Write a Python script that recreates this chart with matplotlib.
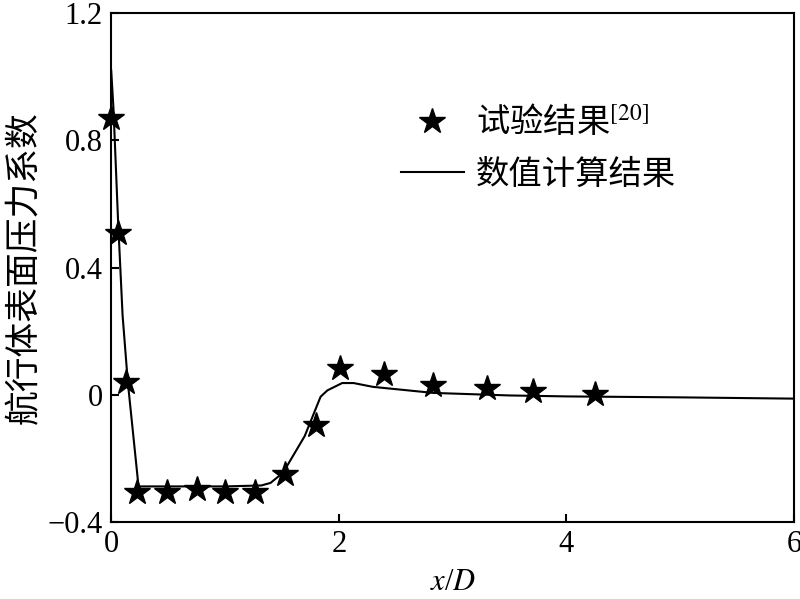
import matplotlib
matplotlib.use("Agg")
import matplotlib.pyplot as plt
from matplotlib.lines import Line2D

# 试验结果 (stars)
exp_x = [0.0, 0.06, 0.13, 0.23, 0.49, 0.75, 1.00, 1.26, 1.53, 1.80, 2.01, 2.40, 2.83, 3.30, 3.71, 4.25]
exp_cp = [0.87, 0.51, 0.04, -0.305, -0.305, -0.296, -0.305, -0.305, -0.25, -0.094, 0.085, 0.065, 0.03, 0.022, 0.013, 0.003]

# 数值计算结果 (line)
num_x = [0.0, 0.02, 0.06, 0.10, 0.146, 0.24, 0.5, 1.0, 1.32, 1.40, 1.51, 1.70, 1.84, 1.90, 2.03, 2.13, 2.30, 2.83, 3.5, 4.0, 5.0, 6.0]
num_cp = [1.02, 0.90, 0.55, 0.25, 0.04, -0.288, -0.288, -0.288, -0.285, -0.277, -0.245, -0.13, -0.006, 0.014, 0.037, 0.037, 0.025, 0.006, -0.002, -0.005, -0.008, -0.012]

plt.rcParams["font.family"] = ["Liberation Serif", "Noto Sans CJK SC"]
plt.rcParams["mathtext.fontset"] = "stix"

fig = plt.figure(figsize=(8, 5.99), dpi=100)
ax = fig.add_axes([0.139, 0.1285, 0.8535, 0.8495])

ax.plot(num_x, num_cp, color="black", lw=1.5, zorder=2)
ax.plot(exp_x, exp_cp, ls="none", marker="*", ms=19, color="black", zorder=3, clip_on=False)

ax.set_xlim(0, 6)
ax.set_ylim(-0.4, 1.2)
ax.set_xticks([0, 2, 4, 6])
ax.set_yticks([-0.4, 0, 0.4, 0.8, 1.2])
ax.set_yticklabels(["\u22120.4", "0", "0.4", "0.8", "1.2"])
ax.tick_params(direction="in", length=6, width=1.5, labelsize=22, pad=6)
for s in ax.spines.values():
    s.set_linewidth(1.5)

ax.set_xlabel("$x$/$D$", fontsize=22, labelpad=6)
ax.set_ylabel("航行体表面压力系数", fontsize=25, family=["Noto Sans CJK SC"], labelpad=4)

handles = [
    Line2D([], [], ls="none", marker="*", ms=19, color="black"),
    Line2D([], [], color="black", lw=1.5),
]
labels = ["试验结果$^{[20]}$", "数值计算结果"]
ax.legend(handles, labels, loc="upper left", bbox_to_anchor=(0.38, 0.88), frameon=False,
          handlelength=1.9, handletextpad=0.35, labelspacing=0.5,
          prop={"family": ["Noto Sans CJK SC"], "size": 24})

fig.savefig("out.png", dpi=100)
